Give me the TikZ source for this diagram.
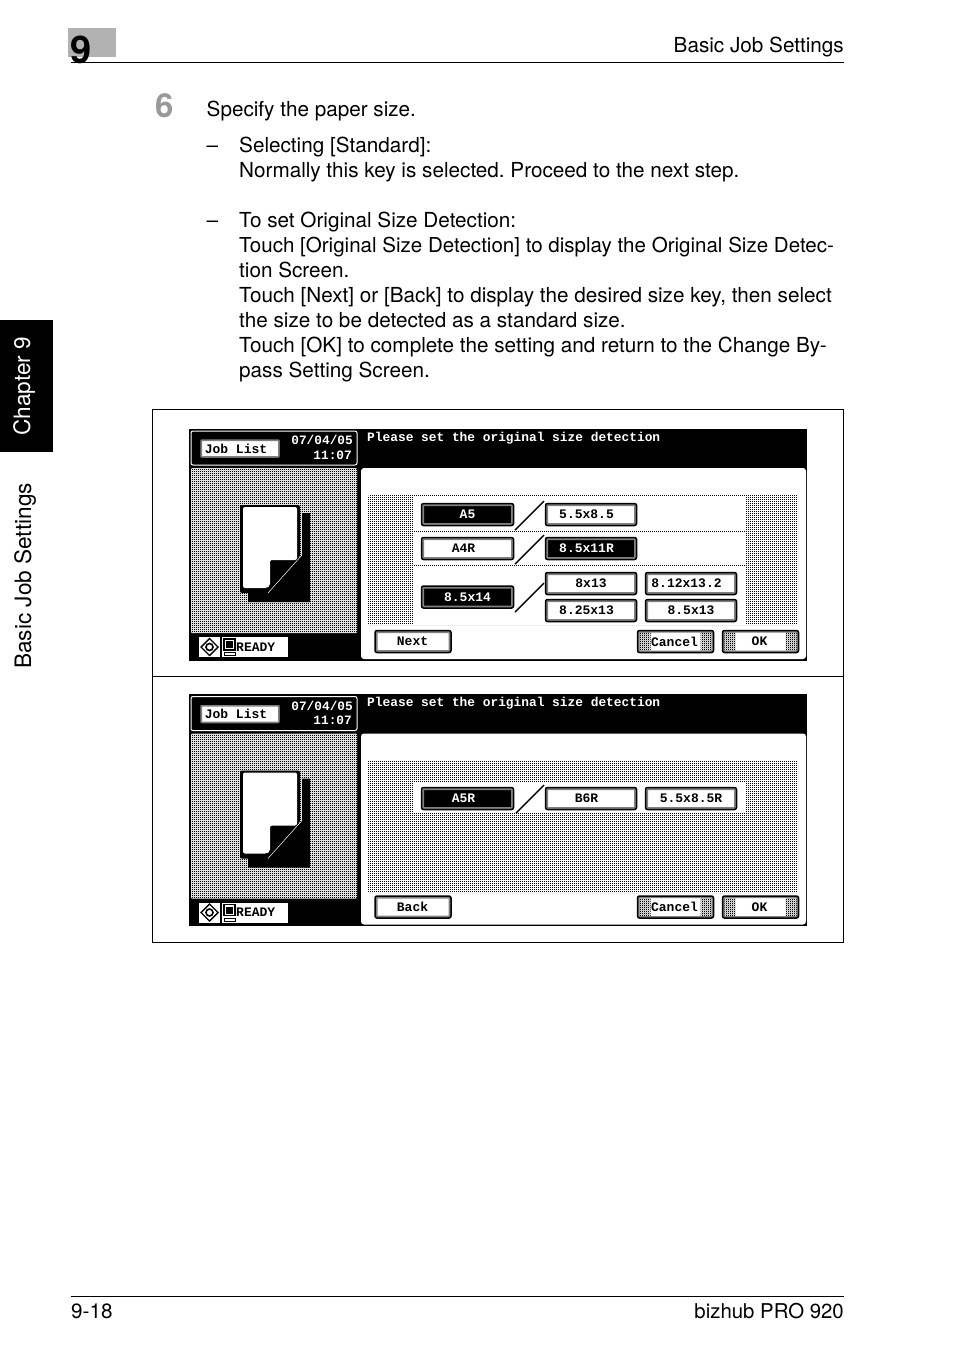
\documentclass[tikz,border=0pt]{standalone}
\usepackage{fontspec}
\setmainfont{TeX Gyre Heros}
\newfontfamily\lcdfont{Liberation Mono}
\usetikzlibrary{patterns}
\pgfdeclarepatternformonly{lcdchecker}{\pgfqpoint{0pt}{0pt}}{\pgfqpoint{2pt}{2pt}}{\pgfqpoint{2pt}{2pt}}{
\pgfpathrectangle{\pgfqpoint{0pt}{0pt}}{\pgfqpoint{1.2pt}{1.2pt}}
\pgfpathrectangle{\pgfqpoint{1pt}{1pt}}{\pgfqpoint{1.2pt}{1.2pt}}
\pgfusepath{fill}}
\pgfdeclarepatternformonly{lcddots}{\pgfqpoint{0pt}{0pt}}{\pgfqpoint{2pt}{2pt}}{\pgfqpoint{2pt}{2pt}}{
\pgfpathrectangle{\pgfqpoint{0pt}{0pt}}{\pgfqpoint{1.25pt}{1.25pt}}
\pgfusepath{fill}}
\frenchspacing
\begin{document}
\begin{tikzpicture}[x=1pt, y=-1pt,
body/.style={anchor=base west, inner sep=0pt, font=\fontsize{20.7}{24}\selectfont},
side/.style={rotate=90, anchor=base west, inner sep=0pt, font=\fontsize{22.6}{26}\selectfont},
lcd/.style={inner sep=0pt, font=\fontsize{12.85}{14}\selectfont\lcdfont\bfseries},
lcdtime/.style={lcd, anchor=east, text=white, font=\fontsize{12.8}{14}\selectfont\lcdfont\bfseries},
whitekey/.style={draw=black, line width=1.5pt, fill=white, rounded corners=2pt, minimum width=#1, minimum height=22pt, inner sep=0pt, font=\fontsize{13}{14}\selectfont\lcdfont\bfseries, path picture={
		\draw[black!50, line width=5pt]
		(path picture bounding box.south west) rectangle (path picture bounding box.north east);
}},
blackkey/.style={whitekey=#1, fill=black, text=white},
softkey/.style={whitekey=#1, path picture={
		\fill[pattern=lcdchecker]
		(path picture bounding box.south west) rectangle ++(13,-30) (path picture bounding box.south east) rectangle ++(-13,-30);
		\draw[black!50, line width=4pt]
		(path picture bounding box.south west) rectangle (path picture bounding box.north east);
}}]
\useasboundingbox (0,0) rectangle (954,1352);

%header
\fill[black!30] (68,28) rectangle (116,57);
\node[anchor=base west, inner sep=0pt, font=\fontsize{38}{38}\selectfont\bfseries] (chapnum) at (70,63) {9};
\draw[line width=1pt] (71,62.5) -- (844,62.5);
\node[anchor=base east, inner sep=0pt, font=\fontsize{20.7}{24}\selectfont] (headtitle) at (844,52) {Basic Job Settings};

%side tab
\fill[black] (0,320) -- (53,320) -- (53,452) -- (0,452) -- cycle;
\node[side, text=white] (tabchapter) at (30,436) {Chapter 9};
\node[side] (tabtitle) at (31,669) {Basic Job Settings};

%text
\node[anchor=base west, inner sep=0pt, text=black!40, font=\fontsize{33}{33}\selectfont\bfseries] (stepnum) at (155,117) {6};
\node[body] (line1) at (206.5,116) {Specify the paper size.};
\node[body] (dash1) at (206.5,152) {--};
\node[body] (line2) at (239,152) {Selecting [Standard]:};
\node[body] (line3) at (239,177) {Normally this key is selected. Proceed to the next step.};
\node[body] (dash2) at (206.5,227) {--};
\node[body] (line4) at (239,227) {To set Original Size Detection:};
\node[body, font=\fontsize{20.55}{24}\selectfont] (line5) at (239,252) {Touch [Original Size Detection] to display the Original Size Detec-};
\node[body] (line6) at (239,277) {tion Screen.};
\node[body] (line7) at (239,302) {Touch [Next] or [Back] to display the desired size key, then select};
\node[body] (line8) at (239,327) {the size to be detected as a standard size.};
\node[body] (line9) at (239,352) {Touch [OK] to complete the setting and return to the Change By-};
\node[body] (line10) at (239,377) {pass Setting Screen.};

%frame
\draw[line width=.8pt] (152.5,409.5) rectangle (843.5,942.5);
\draw[line width=.8pt] (152.5,676) -- (843.5,676);

%both screens
\foreach \dy/\scr/\botkey in {0/a/Next, 265.5/b/Back}{
\begin{scope}[yshift=-\dy pt]
\fill[black] (189,428.5) rectangle (807,660.5);
\draw[white, line width=1pt, rounded corners=2pt] (191,431) rectangle (357,465);
\node[whitekey=81pt, minimum height=20pt] (job\scr) at (240,448.5) {\kern-8pt Job List};
\node[lcdtime] (date\scr) at (353,440) {07/04/05};
\node[lcdtime] (time\scr) at (352,455) {11:07};
\node[lcd, anchor=base west, text=white] (msg\scr) at (367,441) {Please set the original size detection};
%paper picture
\fill[white, rounded corners=1pt] (191,468) rectangle (357,633);
\fill[pattern=lcdchecker, rounded corners=1pt] (191,468) rectangle (357,633);
\fill[black] (302,513) -- (310,513) -- (310,602) -- (248,602) -- (248,592) -- (268,592) -- (302,555) -- cycle;
\fill[black, rounded corners=2pt] (240,505) -- (300,505) -- (300,557) -- (269,593) -- (240,593) -- cycle;
\fill[white, rounded corners=2pt] (243,507) -- (297,507) -- (297,560) -- (270,560) -- (270,586) -- (267,588) -- (243,588) -- cycle;
\draw[white, line width=.5pt] (268,593) -- (302,555);
%ready box
\fill[white] (199,637) rectangle (288,657);
\draw[black, line width=1.4pt] (209.5,638.5) -- (218,647) -- (209.5,655.5) -- (201,647) -- cycle;
\draw[black, line width=1.6pt] (209.5,647) circle (3.5pt);
\fill[black] (220,637) rectangle (222,657);
\draw[black, line width=1.2pt] (224,639) rectangle (235,650);
\fill[black] (226,641) rectangle (233,648);
\draw[black, line width=1pt] (224,652.5) rectangle (235,655.5);
\node[lcd, anchor=base west, font=\fontsize{13}{14}\selectfont\lcdfont\bfseries] (ready\scr) at (236,651) {READY};
%main panel
\fill[white, rounded corners=3pt] (361,468) rectangle (806,659);
\node[whitekey=76pt] (first\scr) at (413,641.5) {\kern-1pt\botkey};
\node[softkey=76pt] (cancel\scr) at (675.5,641.5) {\kern-2pt Cancel};
\node[softkey=76pt] (ok\scr) at (760.5,641.5) {\kern-2pt OK};
\end{scope}
}

%first screen
\fill[pattern=lcddots, rounded corners=2pt] (368,495) rectangle (798,625);
\fill[white] (414,497) rectangle (745,529.5);
\fill[white] (414,531.5) rectangle (745,564);
\fill[white] (414,566) rectangle (745,624);
\draw[line width=1.4pt] (515,530) -- (544,501);
\draw[line width=1.4pt] (515,564) -- (544,535);
\draw[line width=1.4pt] (515,612) -- (544,583);
\node[blackkey=92pt] (a5) at (467.5,514.5) {A5};
\node[whitekey=92pt] (a4r) at (467.5,548.5) {\kern-8pt A4R};
\node[blackkey=92pt] (lgl) at (467.5,597) {8.5x14};
\node[whitekey=91pt] (inv) at (591,514.5) {\kern-9pt 5.5x8.5};
\node[blackkey=91pt] (ltrr) at (591,548.5) {\kern-9pt 8.5x11R};
\node[whitekey=91pt] (fls) at (591,583.5) {8x13};
\node[whitekey=91pt] (fool) at (591,610.5) {\kern-9pt 8.25x13};
\node[whitekey=91pt] (fola) at (691,583.5) {\kern-9pt 8.12x13.2};
\node[whitekey=91pt] (folb) at (691,610.5) {8.5x13};

%second screen
\fill[pattern=lcddots, rounded corners=2pt] (368,760) rectangle (798,893);
\fill[white] (413,782) rectangle (745,813);
\draw[line width=1.4pt] (516,813) -- (544,785);
\node[blackkey=92pt] (a5r) at (467.5,798.5) {\kern-8pt A5R};
\node[whitekey=91pt] (b6r) at (591,798.5) {\kern-9pt B6R};
\node[whitekey=91pt] (invr) at (691,798.5) {5.5x8.5R};

%footer
\draw[line width=.8pt] (71,1296) -- (844,1296);
\node[body] (pageno) at (71,1318) {9-18};
\node[body, anchor=base east, font=\fontsize{20.4}{24}\selectfont] (product) at (844,1318) {bizhub PRO 920};
\end{tikzpicture}
\end{document}
